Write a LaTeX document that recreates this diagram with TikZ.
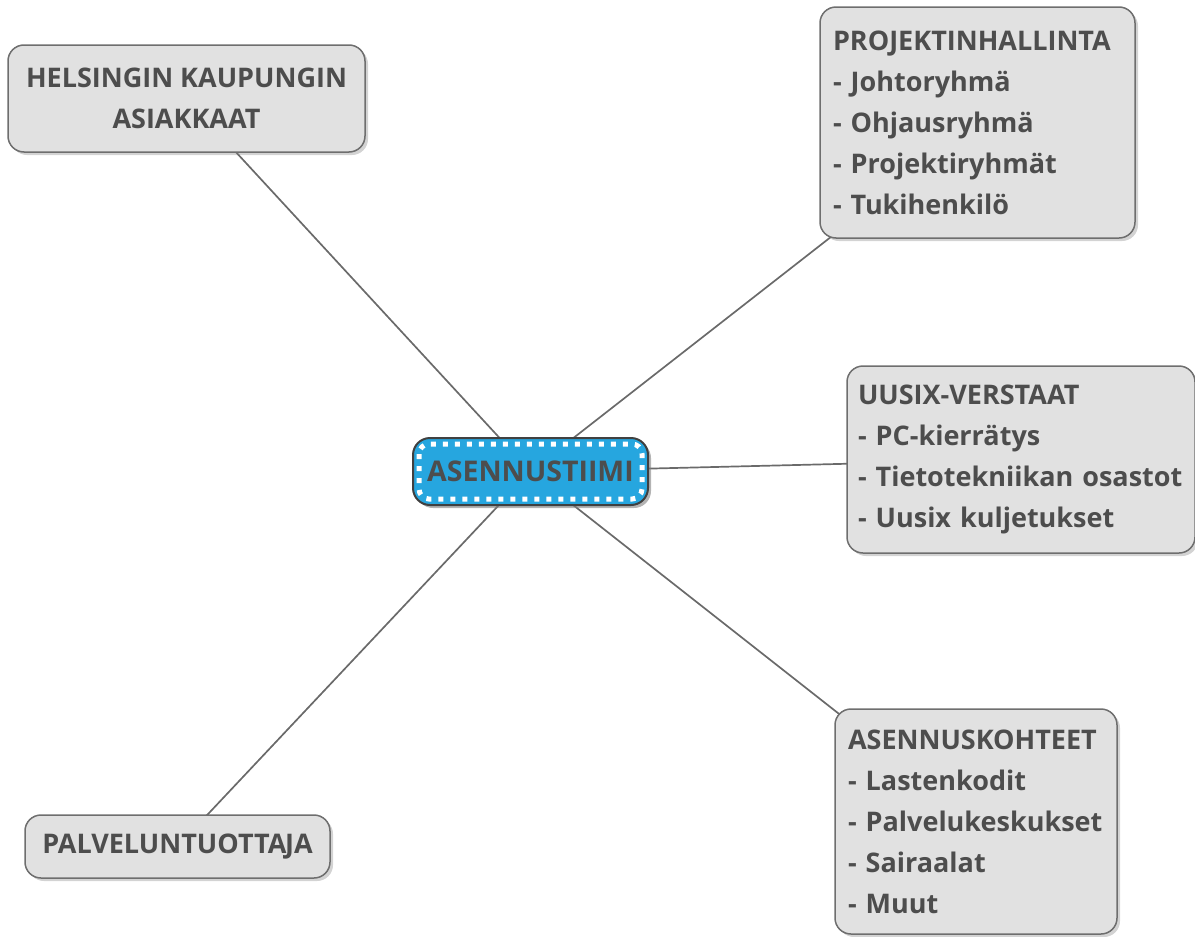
\documentclass[tikz,border=0pt]{standalone}
\usepackage{fontspec}
\setmainfont{Open Sans}
\usetikzlibrary{backgrounds,shadows}
\definecolor{txtgray}{HTML}{4D4D4D}
\definecolor{boxfill}{HTML}{E1E1E1}
\definecolor{boxline}{HTML}{6E6E6E}
\definecolor{teamblue}{HTML}{26A6DF}
\definecolor{linkgray}{HTML}{6A6A6A}

\begin{document}
\begin{tikzpicture}[
    x=1pt, y=-1pt,
    every node/.style={font=\fontsize{27}{41}\selectfont\bfseries, text=txtgray},
    topic/.style={draw=boxline, line width=1.5pt, fill=boxfill, rounded corners=16pt,
        inner xsep=13pt, inner ysep=0pt, align=left,
        drop shadow={shadow xshift=3pt, shadow yshift=-3pt, opacity=0.35}},
    team/.style={draw=black!75, line width=2pt, fill=teamblue, rounded corners=17pt,
        minimum width=235pt, minimum height=67pt, inner sep=0pt,
        font=\fontsize{28.5}{34}\selectfont\bfseries,
        drop shadow={shadow xshift=3pt, shadow yshift=-3pt, opacity=0.6}},
    dotborder/.style={draw=white, line width=5pt, dash pattern=on 5pt off 7pt, rounded corners=10pt},
    link/.style={draw=linkgray, line width=1.7pt}
]
\useasboundingbox (0,0) rectangle (1195,937);

% ===== CENTRE =====
\node[team] (team) at (530.5,471.5) {ASENNUSTIIMI};
\draw[dotborder] ([xshift=7pt,yshift=-7pt]team.north west) rectangle ([xshift=-7pt,yshift=7pt]team.south east);

% ===== TOPICS =====
\node[topic, align=center, minimum width=357pt, minimum height=107pt] (hel) at (186.5,98.5)
    {HELSINGIN KAUPUNGIN\\ASIAKKAAT};
\node[topic, text width=289pt, minimum height=231pt] (proj) at (977.5,122.5)
    {PROJEKTINHALLINTA\\- Johtoryhmä\\- Ohjausryhmä\\- Projektiryhmät\\- Tukihenkilö};
\node[topic, inner xsep=11pt, text width=326pt, minimum height=187pt] (uus) at (1021,459.5)
    {UUSIX-VERSTAAT\\- PC-kierrätys\\- Tietotekniikan osastot\\- Uusix kuljetukset};
\node[topic, text width=256pt, minimum height=225pt] (koh) at (976,821.5)
    {ASENNUSKOHTEET\\- Lastenkodit\\- Palvelukeskukset\\- Sairaalat\\- Muut};
\node[topic, align=center, minimum width=305pt, minimum height=63pt] (pal) at (177.5,846.5)
    {PALVELUNTUOTTA\kern-1.5pt JA};

% Links from the team to every topic
\begin{scope}[on background layer]
\foreach \n in {hel, proj, uus, koh, pal} {
    \draw[link] (team.center) -- (\n.center);
}
\end{scope}

\end{tikzpicture}
\end{document}
